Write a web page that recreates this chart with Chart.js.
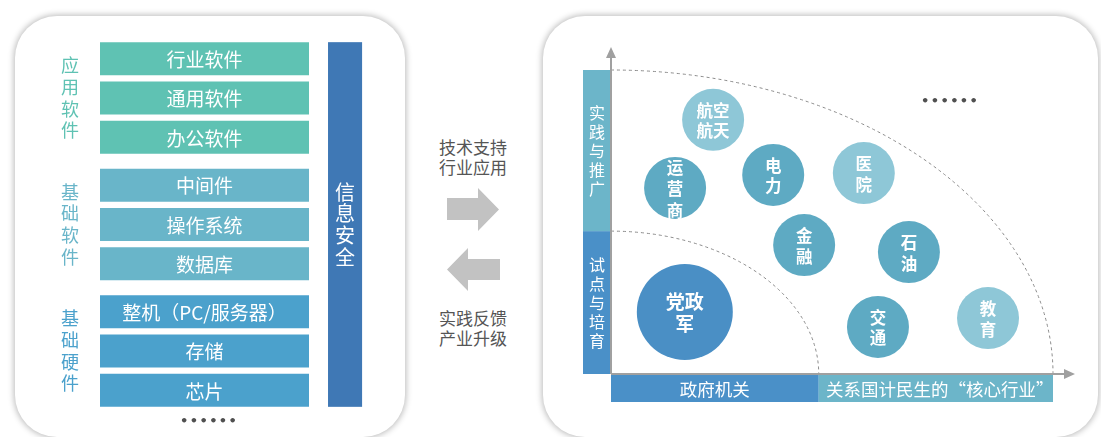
<!DOCTYPE html>
<html>
<head>
<meta charset="utf-8">
<script src="https://cdn.jsdelivr.net/npm/chart.js@4.4.1/dist/chart.umd.min.js"></script>
<style>
  body { margin: 0; width: 1101px; height: 437px; background: #fff; position: relative; overflow: hidden;
         font-family: "Noto Sans CJK SC", sans-serif; }
  .panel { position: absolute; background: #fff; border-radius: 42px; box-shadow: 0 0 6px 1px rgba(0,0,0,0.28); }
  #leftPanel { left: 15px; top: 16px; width: 390px; height: 421px; }
  #rightPanel { left: 543px; top: 16px; width: 555px; height: 421px; }
  canvas { position: absolute; top: 0; }
  #stackChart { left: 0; }
  #quadChart { left: 543px; }
  .mid { position: absolute; left: 423px; width: 100px; text-align: center; color: #555;
         font-size: 17px; line-height: 20px; }
  .dots { position: absolute; color: #505050; font-family: "DejaVu Sans", sans-serif; font-size: 13px;
          letter-spacing: 1.4px; line-height: 14px; font-weight: bold; }
  svg { position: absolute; left: 0; top: 0; }
</style>
</head>
<body>
<div class="panel" id="leftPanel"></div>
<div class="panel" id="rightPanel"></div>
<canvas id="stackChart" width="420" height="437"></canvas>
<canvas id="quadChart" width="558" height="437"></canvas>

<div class="mid" style="top:137px">技术支持<br>行业应用</div>
<div class="mid" style="top:308px">实践反馈<br>产业升级</div>
<svg width="1101" height="437">
  <polygon points="447,198 478,198 478,188 499,209.5 478,231 478,220 447,220" fill="#c2c2c2"/>
  <polygon points="500,259 468,259 468,248 447,269.5 468,291 468,280 500,280" fill="#c2c2c2"/>
</svg>
<div class="dots" style="left:180px;top:414px">••••••</div>
<div class="dots" style="left:921px;top:94px">••••••</div>

<script>
// ---- left: technology stack ----
const layers = ["行业软件", "通用软件", "办公软件", "中间件", "操作系统", "数据库", "整机（PC/服务器）", "存储", "芯片"];
const layerGroup = [0, 0, 0, 1, 1, 1, 2, 2, 2];
const groups = ["应用软件", "基础软件", "基础硬件"];
const securityLabel = "信息安全";

// ---- right: industry quadrant ----
const industries = ["航空航天", "运营商", "电力", "医院", "金融", "石油", "党政军", "交通", "教育"];
const industryLines = [["航空", "航天"], ["运", "营", "商"], ["电", "力"], ["医", "院"], ["金", "融"],
                       ["石", "油"], ["党政", "军"], ["交", "通"], ["教", "育"]];
const breadth = [23.1, 14.5, 36.7, 57.2, 43.7, 67.4, 16.7, 60.4, 85.3];
const practice = [83.6, 61.2, 65.5, 66.1, 42.4, 40.1, 20.4, 15.5, 18.4];
const tone = ["light", "mid", "mid", "light", "mid", "mid", "deep", "mid", "light"];
const stageBounds = [0, 47, 100];
const yStages = ["试点与培育", "实践与推广"];
const xStages = ["政府机关", "关系国计民生的“核心行业”"];

const groupColors = ["#5fc2b3", "#69b5c9", "#4ba1cc"];
const securityColor = "#3f78b5";
const toneColors = { deep: "#4a8fc5", mid: "#5eaac3", light: "#8ec7d7" };
const bandColors = ["#4a90c8", "#6cb5c9"];
const FONT = '"Noto Sans CJK SC", sans-serif';

const GROUP_GAP = 0.216;
const rowPos = layers.map((_, i) => i + layerGroup[i] * GROUP_GAP);

function vText(ctx, chars, cx, cy, pitch) {
  const arr = Array.from(chars);
  const start = cy - (pitch * (arr.length - 1)) / 2;
  arr.forEach((c, k) => ctx.fillText(c, cx, start + k * pitch));
}

const stackDeco = {
  id: "stackDeco",
  afterDatasetsDraw(chart) {
    const { ctx, scales: { x } } = chart;
    const bars = chart.getDatasetMeta(0).data;
    ctx.save();
    ctx.textAlign = "center";
    ctx.textBaseline = "middle";
    // layer names
    ctx.font = "19px " + FONT;
    ctx.fillStyle = "#fff";
    bars.forEach((b, i) => ctx.fillText(layers[i], (b.x + b.base) / 2, b.y + 1));
    // group labels
    ctx.font = "18px " + FONT;
    groups.forEach((g, gi) => {
      const idx = layerGroup.map((v, i) => (v === gi ? i : -1)).filter((i) => i >= 0);
      const top = bars[idx[0]].y - bars[idx[0]].height / 2;
      const bot = bars[idx[idx.length - 1]].y + bars[idx[idx.length - 1]].height / 2;
      ctx.fillStyle = groupColors[gi];
      vText(ctx, g, 70, (top + bot) / 2, 21.7);
    });
    // security column
    const top = bars[0].y - bars[0].height / 2;
    const bot = bars[bars.length - 1].y + bars[bars.length - 1].height / 2;
    const xl = x.getPixelForValue(1.091), xr = x.getPixelForValue(1.254);
    ctx.fillStyle = securityColor;
    ctx.fillRect(xl, top, xr - xl, bot - top);
    ctx.fillStyle = "#fff";
    ctx.font = "20px " + FONT;
    vText(ctx, securityLabel, (xl + xr) / 2, (top + bot) / 2, 21.7);
    ctx.restore();
  },
};

new Chart(document.getElementById("stackChart"), {
  type: "bar",
  data: {
    datasets: [{
      data: layers.map((_, i) => ({ x: 1, y: rowPos[i] })),
      backgroundColor: layerGroup.map((g) => groupColors[g]),
      barThickness: 33,
      barPercentage: 0.84,
      categoryPercentage: 1,
      borderWidth: 0,
      inflateAmount: 0,
    }],
  },
  options: {
    indexAxis: "y",
    responsive: false,
    animation: false,
    layout: { padding: { left: 100, right: 111, top: 39, bottom: 27 } },
    scales: {
      x: { type: "linear", min: 0, max: 1, offset: false, display: false },
      y: { type: "linear", min: -0.5, max: 8 + 2 * GROUP_GAP + 0.5, reverse: true, offset: false, display: false },
    },
    plugins: { legend: { display: false }, tooltip: { enabled: false } },
  },
  plugins: [stackDeco],
});

const quadDeco = {
  id: "quadDeco",
  beforeDatasetsDraw(chart) {
    const { ctx, scales: { x, y } } = chart;
    const x0 = x.getPixelForValue(0), y0 = y.getPixelForValue(0);
    const band = 28;
    ctx.save();
    ctx.textAlign = "center";
    ctx.textBaseline = "middle";
    for (let i = 0; i < yStages.length; i++) {
      const a = stageBounds[i], b = stageBounds[i + 1];
      ctx.fillStyle = bandColors[i];
      const yt = y.getPixelForValue(b), yb = y.getPixelForValue(a);
      ctx.fillRect(x0 - band, yt, band, yb - yt);
      const xl = x.getPixelForValue(a), xr = x.getPixelForValue(b);
      ctx.fillRect(xl, y0, xr - xl, band);
      ctx.fillStyle = "#fff";
      ctx.font = "16px " + FONT;
      vText(ctx, yStages[i], x0 - band / 2, (yt + yb) / 2, 19);
      ctx.font = "17.5px " + FONT;
      ctx.fillText(xStages[i], (xl + xr) / 2 + (i ? 4 : 0), y0 + band / 2 + 1);
    }
    // dashed stage arcs
    ctx.setLineDash([3, 3]);
    ctx.strokeStyle = "#8a8a8a";
    ctx.lineWidth = 1;
    stageBounds.slice(1).forEach((b) => {
      ctx.beginPath();
      ctx.ellipse(x0, y0, x.getPixelForValue(b) - x0, y0 - y.getPixelForValue(b), 0, -Math.PI / 2, 0);
      ctx.stroke();
    });
    // axes with arrows
    ctx.setLineDash([]);
    ctx.strokeStyle = "#a0a0a0";
    ctx.fillStyle = "#a0a0a0";
    ctx.lineWidth = 2;
    const yTip = y.getPixelForValue(100) - 23, xTip = x.getPixelForValue(100) + 22;
    ctx.beginPath();
    ctx.moveTo(x0, y0); ctx.lineTo(x0, yTip + 10);
    ctx.moveTo(x0, y0); ctx.lineTo(xTip - 10, y0);
    ctx.stroke();
    ctx.beginPath();
    ctx.moveTo(x0, yTip); ctx.lineTo(x0 - 5, yTip + 11); ctx.lineTo(x0 + 5, yTip + 11); ctx.closePath();
    ctx.moveTo(xTip, y0); ctx.lineTo(xTip - 11, y0 - 5); ctx.lineTo(xTip - 11, y0 + 5); ctx.closePath();
    ctx.fill();
    ctx.restore();
  },
  afterDatasetsDraw(chart) {
    const { ctx } = chart;
    ctx.save();
    ctx.textAlign = "center";
    ctx.textBaseline = "middle";
    ctx.fillStyle = "#fff";
    chart.getDatasetMeta(0).data.forEach((el, i) => {
      const big = tone[i] === "deep";
      ctx.font = "bold " + (big ? 19 : 16.5) + "px " + FONT;
      const pitch = big ? 22 : (industryLines[i].length > 2 ? 21.5 : 20.5);
      const lines = industryLines[i];
      const start = el.y - (pitch * (lines.length - 1)) / 2;
      lines.forEach((t, k) => ctx.fillText(t, el.x, start + k * pitch + 1));
    });
    ctx.restore();
  },
};

new Chart(document.getElementById("quadChart"), {
  type: "bubble",
  data: {
    datasets: [{
      data: industries.map((_, i) => ({ x: breadth[i], y: practice[i] })),
      radius: (c) => (tone[c.dataIndex] === "deep" ? 48 : 31),
      backgroundColor: (c) => toneColors[tone[c.dataIndex]],
      borderWidth: 0,
      clip: false,
    }],
  },
  options: {
    responsive: false,
    animation: false,
    layout: { padding: { left: 68, right: 48, top: 70, bottom: 63 } },
    scales: {
      x: { type: "linear", min: 0, max: 100, display: false },
      y: { type: "linear", min: 0, max: 100, display: false },
    },
    plugins: { legend: { display: false }, tooltip: { enabled: false } },
  },
  plugins: [quadDeco],
});
</script>
</body>
</html>
